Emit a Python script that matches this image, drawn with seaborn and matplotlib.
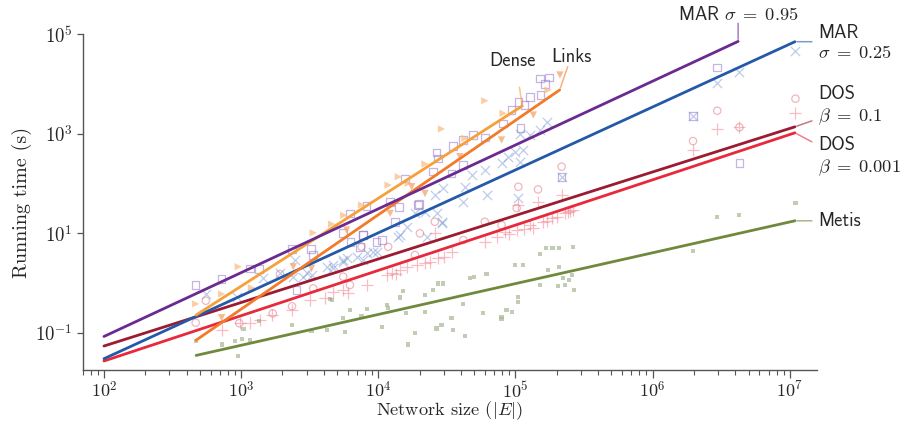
import matplotlib
matplotlib.use("Agg")
import matplotlib.pyplot as plt
from matplotlib.ticker import FixedLocator, FuncFormatter, LogLocator, NullFormatter, NullLocator
import numpy as np
import pandas as pd
import seaborn as sns

# ---- data (network size |E|, running time in s) ----
mar95_n = [466, 721, 1160, 1350, 2340, 3220, 3330, 5530, 6210, 6280, 7700, 9720, 8220, 2540,
           151000, 176000, 164000, 127000, 152000, 105000, 93700, 116000, 109000, 81300,
           59800, 49200, 41600, 35200, 26600, 27300, 41600, 34200, 25100, 19900,
           14200, 15600, 12200, 7760, 7340, 10600, 13200, 19500, 217000, 1.97e6, 2.96e6, 4.29e6]
mar95_t = [0.91, 1.19, 1.97, 1.91, 4.8, 4.8, 3.65, 10.2, 25, 6.6, 9.2, 6.75, 35, 0.72,
           13000, 13600, 10000, 5560, 6020, 4410, 3000, 3790, 1320, 1620,
           849, 945, 750, 568, 417, 321, 236, 160, 173, 39,
           34, 127, 43, 9.2, 5.35, 7.3, 17, 37, 137, 2275, 21700, 255]

mar25_n = [553, 927, 1450, 1920, 2400, 2470, 2840, 3000, 3260, 4200,
           4690, 5550, 5870, 6950, 8220, 9190, 4690, 5550, 7760, 9720,
           14000, 22500, 28900, 14400, 16100, 18500, 21900, 26600, 28900, 25800,
           29700, 41600, 42800, 47900, 61500, 59800, 79200, 88500, 108000, 99100,
           114000, 108000, 127000, 151000, 169000, 105000, 217000, 1.97e6, 2.96e6, 4.29e6, 1.1e7]
mar25_t = [0.59, 0.53, 1.24, 1.56, 1.34, 2.9, 1.34, 1.58, 1.45, 2.12,
           2.3, 2.9, 3.18, 3.37, 3.95, 4.25, 1.97, 2.68, 2.9, 4.25,
           8.5, 8.5, 17, 9.2, 13.5, 25, 27, 25, 15.8, 59,
           80, 43, 86, 148, 59, 187, 255, 346, 274, 437,
           472, 990, 945, 1190, 1750, 52, 137, 2275, 10600, 17200, 47000]

dos1_n = [466, 553, 970, 1700, 1920, 2350, 3350, 5550, 6210, 7550,
          11800, 18500, 20100, 25800, 41600, 59800, 79200, 102000, 105000, 146000,
          217000, 1.97e6, 2.96e6, 4.29e6, 1.1e7]
dos1_t = [0.159, 0.44, 0.155, 0.245, 1.51, 0.34, 0.78, 1.34, 0.91, 5.35,
          5.35, 3.65, 9.95, 17, 7.3, 17, 14.6, 32, 86, 76,
          218, 714, 2910, 1350, 5070]

dos001_n = [721, 980, 1160, 1370, 1670, 2340, 3170, 4080, 4690, 5550,
            6030, 8220, 11500, 14400, 16100, 21900, 27300, 34200, 25800, 59800,
            72800, 83700, 102000, 105000, 127000, 146000, 159000, 200000, 217000, 242000,
            264000, 90000, 115000, 135000, 170000, 185000, 230000, 250000,
            12500, 13500, 19000, 24000, 30000,
            1.97e6, 2.96e6, 4.29e6, 1.1e7]
dos001_t = [0.113, 0.155, 0.155, 0.18, 0.23, 0.29, 0.45, 0.49, 0.67, 0.72,
            0.64, 0.91, 1.45, 1.82, 2.12, 2.48, 3.13, 4.25, 9.95, 6.75,
            8.5, 10.7, 11.6, 37, 14.6, 43, 17, 21.5, 59, 27,
            29, 9.5, 12, 13, 18, 20, 25, 28,
            1.6, 1.5, 2.3, 2.6, 3.4,
            468, 1250, 1350, 2650]

metis_n = [466, 721, 900, 1010, 1160, 1350, 953, 1040, 2340, 3260,
           4200, 4570, 5710, 5550, 6210, 8220, 7550, 4460, 10600, 11500,
           11800, 14400, 15200, 15900, 16500, 18500, 21900, 21900, 25100, 27300,
           29700, 26600, 28900, 34200, 35200, 41200, 42800, 46500, 49800, 61500,
           58200, 79200, 79200, 86100, 93700, 99100, 114000, 105000, 105000, 151000,
           167000, 186000, 208000, 261000, 173000, 208000, 152000, 205000, 229000, 223000,
           246000, 257000, 268000, 1.97e6, 2.96e6, 4.29e6, 1.1e7]
metis_t = [0.069, 0.058, 0.069, 0.074, 0.071, 0.174, 0.034, 0.119, 0.143, 0.108,
           0.113, 0.45, 0.105, 0.20, 0.29, 0.30, 0.22, 0.47, 0.128, 0.36,
           0.31, 0.51, 0.69, 0.25, 0.058, 0.097, 0.57, 0.26, 0.72, 0.98,
           0.98, 0.122, 0.143, 0.195, 0.113, 0.38, 0.086, 1.24, 1.34, 1.51,
           0.25, 0.21, 0.186, 0.29, 0.26, 2.3, 2.3, 0.53, 0.42, 3.77,
           4.97, 4.97, 4.97, 5.35, 1.82, 2.12, 0.91, 0.87, 0.91, 1.24,
           1.15, 1.45, 0.72, 4.4, 21, 23, 40]

dense_n = [466, 721, 953, 1190, 3350, 4570, 5600, 7550, 11800, 14000,
           16500, 21900, 28900, 42800, 59800, 81300, 173000]
dense_t = [0.38, 0.60, 2.12, 0.8, 10.2, 15.3, 23, 37, 93, 137,
           101, 247, 1250, 811, 4620, 2580, 7590]

links_n = [721, 2400, 3260, 5870, 12200, 17500, 21900, 39300, 79200, 135000, 211000]
links_t = [0.20, 2.12, 1.97, 11.6, 25, 86, 63, 346, 750, 2380, 15200]

# fitted power-law lines (end points)
fit_mar95_n, fit_mar95_t = [100, 4.2e6], [0.084, 7.2e4]
fit_mar25_n, fit_mar25_t = [100, 1.09e7], [0.030, 7.1e4]
fit_dos1_n, fit_dos1_t = [100, 1.09e7], [0.054, 1380]
fit_dos001_n, fit_dos001_t = [100, 1.09e7], [0.027, 1045]
fit_metis_n, fit_metis_t = [470, 1.09e7], [0.035, 17.8]
fit_dense_n, fit_dense_t = [470, 1.12e5], [0.227, 3620]
fit_links_n, fit_links_t = [470, 2.1e5], [0.071, 7600]

# ---- styling ----
sns.set_style("ticks")
plt.rcParams["mathtext.fontset"] = "cm"
plt.rcParams["font.family"] = ["cmr10", "DejaVu Serif"]
plt.rcParams["axes.unicode_minus"] = False
SANS = ["cmss10", "DejaVu Sans"]

C_MAR95 = "#6a2a8f"
C_MAR25 = "#2459a8"
C_DOS1 = "#9c1b30"
C_DOS001 = "#e8283b"
C_METIS = "#6f8a3c"
C_DENSE = "#f7a03a"
C_LINKS = "#f27a28"

fig = plt.figure(figsize=(9.06, 4.23), dpi=100)
ax = fig.add_axes([0.0913, 0.1253, 0.8101, 0.7936])
ax.set_xscale("log")
ax.set_yscale("log")

def open_pts(n, t, marker, color, s):
    sns.scatterplot(x=n, y=t, marker=marker, s=s, facecolor="none", edgecolor=color,
                    linewidth=0.9, alpha=0.5, ax=ax, zorder=2)

def line_pts(n, t, marker, color, s):
    sns.scatterplot(x=n, y=t, marker=marker, s=s, color=color, linewidth=0.9,
                    alpha=0.45, ax=ax, zorder=2)

def filled_pts(n, t, marker, color, s, alpha):
    sns.scatterplot(x=n, y=t, marker=marker, s=s, color=color, edgecolor="none",
                    alpha=alpha, ax=ax, zorder=2)

filled_pts(metis_n, metis_t, "s", "#a9b595", 9, 0.7)
open_pts(mar95_n, mar95_t, "s", "#8c6cc4", 30)
line_pts(mar25_n, mar25_t, "x", "#6d8fd0", 45)
open_pts(dos1_n, dos1_t, "o", "#e0707e", 28)
line_pts(dos001_n, dos001_t, "+", "#f06b7c", 75)
filled_pts(dense_n, dense_t, ">", "#f9be86", 28, 0.75)
filled_pts(links_n, links_t, "v", "#f5a56e", 28, 0.75)

for fn, ft, c in [(fit_metis_n, fit_metis_t, C_METIS),
                  (fit_dos001_n, fit_dos001_t, C_DOS001),
                  (fit_dos1_n, fit_dos1_t, C_DOS1),
                  (fit_mar25_n, fit_mar25_t, C_MAR25),
                  (fit_links_n, fit_links_t, C_LINKS),
                  (fit_dense_n, fit_dense_t, C_DENSE),
                  (fit_mar95_n, fit_mar95_t, C_MAR95)]:
    sns.lineplot(x=fn, y=ft, color=c, linewidth=2.0, ax=ax, zorder=3)

# ---- labels with leader lines (offsets in points from the fit end) ----
labels = [
    ("MAR $\\sigma\\;=\\;0.95$", fit_mar95_n, fit_mar95_t, C_MAR95, (0, 13), (0, 18.7), "center"),
    ("MAR\n$\\sigma\\;=\\;0.25$", fit_mar25_n, fit_mar25_t, C_MAR25, (12.2, 0), (16.6, -1), "left"),
    ("DOS\n$\\beta\\;=\\;0.1$", fit_dos1_n, fit_dos1_t, C_DOS1, (12.2, 4.3), (16.6, 15), "left"),
    ("DOS\n$\\beta\\;=\\;0.001$", fit_dos001_n, fit_dos001_t, C_DOS001, (12.2, -6.5), (16.6, -17.5), "left"),
    ("Metis", fit_metis_n, fit_metis_t, C_METIS, (12.2, 0), (16.6, 0), "left"),
    ("Dense", fit_dense_n, fit_dense_t, C_DENSE, (-2, 13.5), (-7, 32.5), "center"),
    ("Links", fit_links_n, fit_links_t, C_LINKS, (5.8, 16.8), (8.4, 23.8), "center"),
]
for text, fn, ft, c, p1, pt, ha in labels:
    end = (fn[-1], ft[-1])
    ax.annotate("", xy=end, xytext=p1, textcoords="offset points",
                arrowprops=dict(arrowstyle="-", color=c, alpha=0.6, lw=1.1,
                                shrinkA=0, shrinkB=1.5))
    ax.annotate(text, xy=end, xytext=pt, textcoords="offset points", ha=ha, va="center",
                fontsize=13.3, family=SANS, linespacing=1.2, annotation_clip=False)

# ---- axes ----
ax.set_xlim(70, 1.57e7)
ax.set_ylim(0.0178, 1e5)
ax.xaxis.set_major_locator(LogLocator(base=10, numticks=12))
ax.xaxis.set_minor_locator(LogLocator(base=10, subs=np.arange(2, 10), numticks=12))
ax.xaxis.set_minor_formatter(NullFormatter())
ax.yaxis.set_major_locator(FixedLocator([0.1, 10, 1000, 1e5]))
ax.yaxis.set_minor_locator(NullLocator())
ax.xaxis.set_major_formatter(FuncFormatter(lambda v, p: f"$10^{{{int(round(np.log10(v)))}}}$"))
ax.yaxis.set_major_formatter(FuncFormatter(lambda v, p: f"$10^{{{int(round(np.log10(v)))}}}$"))
ax.tick_params(axis="both", which="major", labelsize=13.5, color="#555555", width=0.9)
ax.tick_params(axis="x", which="major", length=6, pad=1, labelsize=13)
ax.tick_params(axis="x", which="minor", length=3.8, color="#555555", width=0.8)
ax.tick_params(axis="y", which="major", length=4)
for side in ["left", "bottom"]:
    ax.spines[side].set_color("#555555")
    ax.spines[side].set_linewidth(1.0)
sns.despine(ax=ax)

ax.set_xlabel("Network size ($|E|$)", fontsize=13.2, labelpad=-1)
ax.set_ylabel("Running time (s)", fontsize=14.5, labelpad=2)

fig.savefig("out.png", dpi=100)
